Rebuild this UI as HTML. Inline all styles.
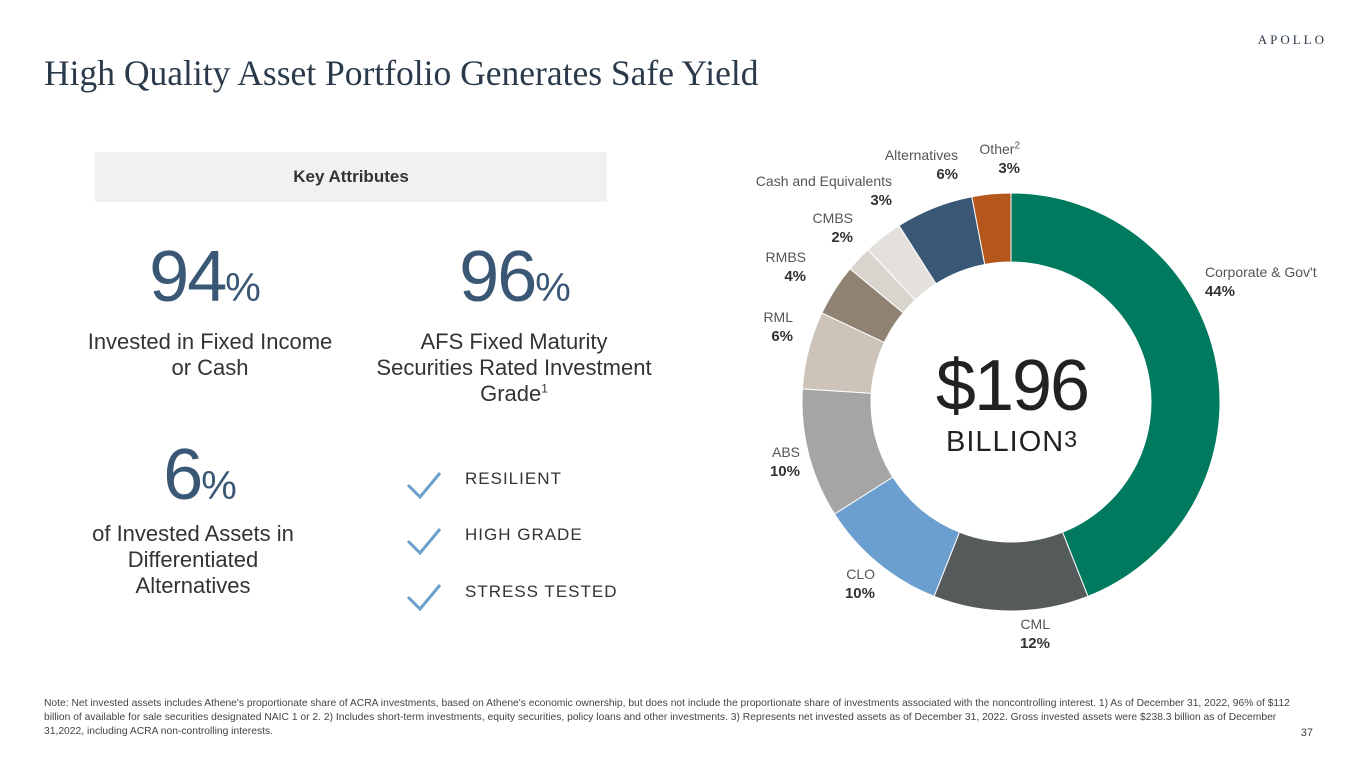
<!DOCTYPE html>
<html><head><meta charset="utf-8">
<style>
body{margin:0;width:1365px;height:768px;background:#fff;font-family:"Liberation Sans",sans-serif;position:relative;overflow:hidden;color:#222}
.abs{position:absolute}
.title{left:44px;top:52px;font-family:"Liberation Serif",serif;font-size:35.5px;color:#2b3a4a}
.logo{right:38px;top:32px;font-family:"Liberation Serif",serif;font-size:13px;letter-spacing:3px;color:#2b3a4a}
.key{left:95px;top:152px;width:512px;height:50px;background:#f2f1ef;text-align:center;line-height:50px;font-weight:bold;font-size:17px;color:#333}
.big{font-size:72px;color:#3a5876;text-align:center;width:300px;letter-spacing:-2px}
.big span{font-size:40px;letter-spacing:0}
.lab{font-size:22px;text-align:center;width:300px;color:#333;line-height:26px}
.chk{font-size:17px;letter-spacing:1px;color:#333}
.note{left:44px;top:697px;width:1260px;font-size:10.3px;color:#444;line-height:14px}
.pg{right:52px;top:727px;font-size:11px;color:#444}
.sl{font-size:14px;color:#555;text-align:right;line-height:19px}
.sl b{color:#333;font-weight:bold;font-size:15px}
</style></head><body>
<div class="abs logo">APOLLO</div>
<div class="abs title">High Quality Asset Portfolio Generates Safe Yield</div>
<div class="abs key">Key Attributes</div>
<div class="abs big" style="left:55px;top:236px">94<span>%</span></div>
<div class="abs lab" style="left:60px;top:329px">Invested in Fixed Income<br>or Cash</div>
<div class="abs big" style="left:365px;top:236px">96<span>%</span></div>
<div class="abs lab" style="left:364px;top:329px;width:300px">AFS Fixed Maturity<br>Securities Rated Investment<br>Grade<sup style="font-size:12px;line-height:0">1</sup></div>
<div class="abs big" style="left:50px;top:434px">6<span>%</span></div>
<div class="abs lab" style="left:43px;top:521px">of Invested Assets in<br>Differentiated<br>Alternatives</div>
<svg class="abs" style="left:400px;top:465px" width="60" height="160">
<path d="M8 20 L20 32 L40 8" stroke="#6a9fd0" stroke-width="3" fill="none"/>
<path d="M8 76 L20 88 L40 64" stroke="#6a9fd0" stroke-width="3" fill="none"/>
<path d="M8 132 L20 144 L40 120" stroke="#6a9fd0" stroke-width="3" fill="none"/>
</svg>
<div class="abs chk" style="left:465px;top:469px">RESILIENT</div>
<div class="abs chk" style="left:465px;top:525px">HIGH GRADE</div>
<div class="abs chk" style="left:465px;top:582px">STRESS TESTED</div>
<svg class="abs" style="left:0;top:0" width="1365" height="768" id="chart"></svg>
<div class="abs" style="left:912px;top:345px;width:200px;text-align:center;font-size:72px;color:#222;letter-spacing:-2px">$196</div>
<div class="abs" style="left:912px;top:426px;width:200px;text-align:center;font-size:29px;color:#222;letter-spacing:1px">BILLION<span style="font-size:23px;vertical-align:top">3</span></div>
<div class="abs note">Note: Net invested assets includes Athene's proportionate share of ACRA investments, based on Athene's economic ownership, but does not include the proportionate share of investments associated with the noncontrolling interest. 1) As of December 31, 2022, 96% of $112 billion of available for sale securities designated NAIC 1 or 2. 2) Includes short-term investments, equity securities, policy loans and other investments. 3) Represents net invested assets as of December 31, 2022. Gross invested assets were $238.3 billion as of December 31,2022, including ACRA non-controlling interests.</div>
<div class="abs pg">37</div>
<script>
const categories=["Corporate & Gov't","CML","CLO","ABS","RML","RMBS","CMBS","Cash and Equivalents","Alternatives","Other"];
const values=[44,12,10,10,6,4,2,3,6,3];
const colors=["#007a5e","#555a5a","#6a9fd0","#a5a5a5","#cdc3b8","#8f8273","#d9d4ce","#e4e0dc","#3a5876","#b5571c"];
const labelPos=[[1260,263,'l'],[1040,615,'r'],[865,565,'r'],[790,443,'r'],[783,308,'r'],[796,248,'r'],[843,209,'r'],[882,172,'r'],[948,146,'r'],[1010,140,'r']];
const svg=document.getElementById('chart');
const cx=1011,cy=402,R=209,r=140;
const total=values.reduce((a,b)=>a+b,0);
let a0=0;
function pt(a,rad){return [cx+rad*Math.sin(a),cy-rad*Math.cos(a)];}
values.forEach((v,i)=>{
 const a1=a0+v/total*2*Math.PI;
 const [x1,y1]=pt(a0,R),[x2,y2]=pt(a1,R),[x3,y3]=pt(a1,r),[x4,y4]=pt(a0,r);
 const lg=(a1-a0)>Math.PI?1:0;
 const p=document.createElementNS('http://www.w3.org/2000/svg','path');
 p.setAttribute('d',`M${x1} ${y1} A${R} ${R} 0 ${lg} 1 ${x2} ${y2} L${x3} ${y3} A${r} ${r} 0 ${lg} 0 ${x4} ${y4}Z`);
 p.setAttribute('fill',colors[i]);p.setAttribute('stroke','#fff');p.setAttribute('stroke-width','1');
 
 
 svg.appendChild(p);
 const lp=labelPos[i];
 const d=document.createElement('div');
 d.className='abs sl';
 d.style.top=lp[1]+'px';
 if(lp[2]==='l'){d.style.left=(lp[0]-55)+'px';d.style.textAlign='left';}
 else{d.style.right=(1365-lp[0]-10)+'px';}
 const nm=categories[i]==='Other'?'Other<sup style="font-size:10px;line-height:0">2</sup>':categories[i];
 d.innerHTML=nm+'<br><b>'+v+'%</b>';
 
 
 document.body.appendChild(d);
 a0=a1;
});
</script>
</body></html>
